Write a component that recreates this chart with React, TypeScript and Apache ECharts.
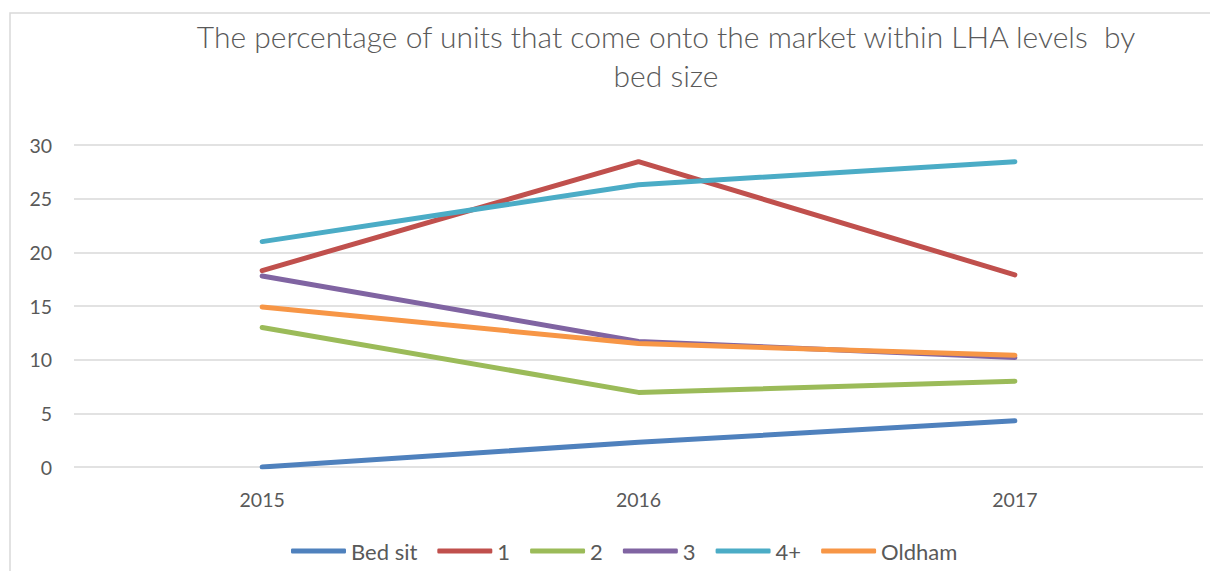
import React, { useEffect, useRef } from "react";
import * as echarts from "echarts";

const years = ["2015", "2016", "2017"];
const bedSit = [0, 2.3, 4.3];
const one = [18.3, 28.45, 17.9];
const two = [13.0, 6.95, 8.0];
const three = [17.8, 11.7, 10.2];
const fourPlus = [21.0, 26.3, 28.45];
const oldham = [14.9, 11.5, 10.4];

const seriesNames = ["Bed sit", "1", "2", "3", "4+", "Oldham"];
const seriesData = [bedSit, one, two, three, fourPlus, oldham];
const colors = ["#4F81BD", "#C0504D", "#9BBB59", "#8064A2", "#4BACC6", "#F79646"];

export default function App() {
  const ref = useRef<HTMLDivElement>(null);
  useEffect(() => {
    if (!ref.current) return;
    const chart = echarts.init(ref.current, undefined, { renderer: "svg" });
    chart.setOption({
      animation: false,
      backgroundColor: "#ffffff",
      color: colors,
      title: {
        text: "The percentage of units that come onto the market within LHA levels  by\nbed size",
        left: 661,
        textAlign: "center",
        top: 11,
        textStyle: {
          fontFamily: "Lato",
          fontWeight: 300,
          fontSize: 30,
          color: "#595959",
          lineHeight: 39,
        },
      },
      graphic: [
        {
          type: "rect",
          shape: { x: 10, y: 13, width: 1215, height: 600 },
          style: { fill: "none", stroke: "#d9d9d9", lineWidth: 1.5 },
          silent: true,
        },
      ],
      legend: {
        top: 535,
        left: 286,
        icon: "roundRect",
        itemWidth: 55,
        itemHeight: 5,
        itemGap: 20,
        data: seriesNames,
        textStyle: { fontFamily: "Lato", fontSize: 22, color: "#595959" },
      },
      grid: { left: 74, right: 15, top: 145, bottom: 112 },
      xAxis: {
        type: "category",
        data: years,
        boundaryGap: true,
        axisLine: { show: false },
        axisTick: { show: false },
        axisLabel: { margin: 22, fontFamily: "Lato", fontSize: 19.5, color: "#595959" },
      },
      yAxis: {
        type: "value",
        min: 0,
        max: 30,
        interval: 5,
        axisLine: { show: false },
        axisTick: { show: false },
        splitLine: { lineStyle: { color: "#d9d9d9", width: 1.5 } },
        axisLabel: { margin: 22, fontFamily: "Lato", fontSize: 19.5, color: "#595959" },
      },
      series: seriesNames.map((name, i) => ({
        name,
        type: "line",
        data: seriesData[i],
        symbol: "none",
        lineStyle: { width: 5, cap: "round", join: "round", color: colors[i] },
        itemStyle: { color: colors[i] },
      })),
    });
    return () => chart.dispose();
  }, []);
  return <div ref={ref} style={{ width: 1218, height: 579, margin: -8 }} />;
}
